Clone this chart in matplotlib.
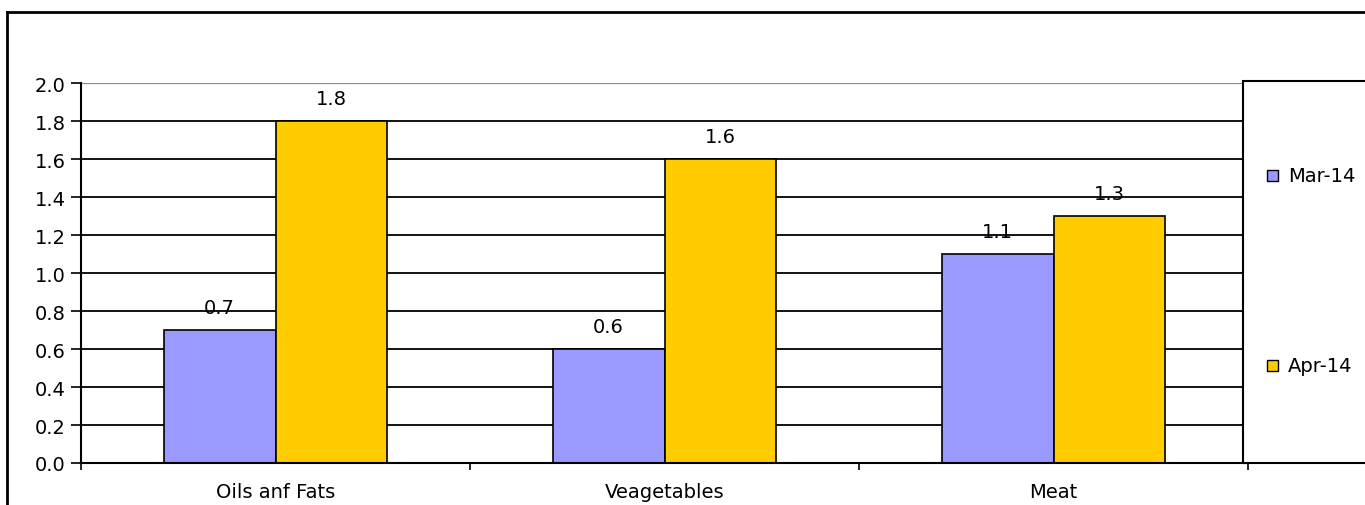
import matplotlib
matplotlib.use("Agg")
import matplotlib.pyplot as plt
from matplotlib.patches import Rectangle
from matplotlib.lines import Line2D
import numpy as np

categories = ["Oils anf Fats", "Veagetables", "Meat"]
mar14 = [0.7, 0.6, 1.1]
apr14 = [1.8, 1.6, 1.3]
series_names = ["Mar-14", "Apr-14"]
yticks = [0.0, 0.2, 0.4, 0.6, 0.8, 1.0, 1.2, 1.4, 1.6, 1.8, 2.0]

plt.rcParams['font.family'] = ['DejaVu Sans']
FS = 14

W, H = 1365, 506
fig = plt.figure(figsize=(W/100, H/100), dpi=100)

L, R, T, B = 81, 1248, 84, 464
ax = fig.add_axes([L/W, 1-B/H, (R-L)/W, (B-T)/H])

x = np.arange(len(categories))
bw = 0.287
ax.bar(x - bw/2, mar14, width=bw, color="#9999FF", edgecolor="black", linewidth=1.2, zorder=3)
ax.bar(x + bw/2, apr14, width=bw, color="#FFCC00", edgecolor="black", linewidth=1.2, zorder=3)

for xi, v in zip(x - bw/2, mar14):
    ax.annotate(f"{v:.1f}", (xi, v), xytext=(0, 12), textcoords="offset points",
                ha="center", va="baseline", fontsize=FS, zorder=4)
for xi, v in zip(x + bw/2, apr14):
    ax.annotate(f"{v:.1f}", (xi, v), xytext=(0, 12), textcoords="offset points",
                ha="center", va="baseline", fontsize=FS, zorder=4)

ax.set_xlim(-0.5, len(categories) - 0.5)
ax.set_ylim(0, 2.0)
ax.set_yticks(yticks)
ax.set_yticklabels([f"{t:.1f}" for t in yticks], fontsize=FS)
for t in yticks[1:-1]:
    ax.axhline(t, color="black", linewidth=1.3, zorder=1)
ax.axhline(2.0, color="#888888", linewidth=1.6, zorder=1)

ax.set_xticks(np.arange(-0.5, len(categories), 1.0))
ax.set_xticklabels([])
ax.set_xticks(x, minor=True)
ax.set_xticklabels(categories, minor=True, fontsize=FS)
ax.tick_params(axis="x", which="minor", length=0, pad=14)
ax.tick_params(axis="x", which="major", direction="out", length=5, width=1.2)
ax.tick_params(axis="y", direction="out", length=7, width=1.2, pad=4)

for s in ["top", "right"]:
    ax.spines[s].set_visible(False)
ax.spines["left"].set_linewidth(1.5)
ax.spines["bottom"].set_linewidth(1.5)
ax.spines["bottom"].set_zorder(5)

# legend box
lx0, ly0, ly1 = 1243, 82, 464
fig.patches.append(Rectangle((lx0/W, 1-ly1/H), (W+20-lx0)/W, (ly1-ly0)/H,
                             transform=fig.transFigure, facecolor="white",
                             edgecolor="black", linewidth=1.5, zorder=5))
for name, col, yy in zip(series_names, ["#9999FF", "#FFCC00"], [176, 366]):
    fig.patches.append(Rectangle((1267/W, 1-(yy+5.5)/H), 11/W, 11/H,
                                 transform=fig.transFigure, facecolor=col,
                                 edgecolor="black", linewidth=1.0, zorder=6))
    fig.text(1288/W, 1-yy/H, name, fontsize=FS, va="center", ha="left", zorder=6)

# outer frame
fig.lines.append(Line2D([7/W, 7/W], [0, 1-13/H], transform=fig.transFigure,
                        color="black", linewidth=2))
fig.lines.append(Line2D([7/W, 1], [1-13/H, 1-13/H], transform=fig.transFigure,
                        color="black", linewidth=2))

fig.savefig("out.png", dpi=100)
